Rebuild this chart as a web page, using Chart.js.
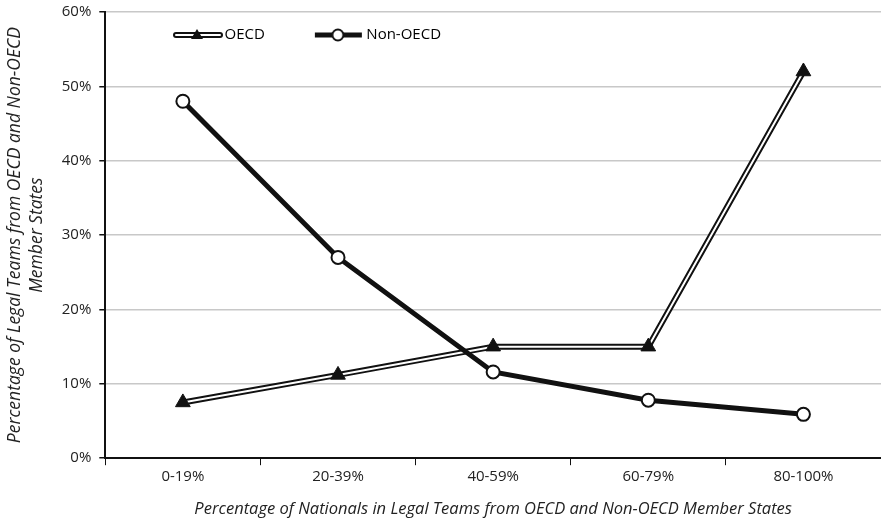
<!DOCTYPE html>
<html>
<head>
<meta charset="utf-8">
<script src="https://cdn.jsdelivr.net/npm/chart.js@4.4.0/dist/chart.umd.min.js"></script>
<style>
  html, body { margin: 0; padding: 0; background: #fff; }
  #wrap { width: 881px; height: 521px; }
</style>
</head>
<body>
<div id="wrap"><canvas id="nationalsChart"></canvas></div>
<script>
const categories = ["0-19%", "20-39%", "40-59%", "60-79%", "80-100%"];
const oecdValues = [7.5, 11.2, 15, 15, 52];
const nonOecdValues = [48, 27, 11.6, 7.8, 5.9];
const yTicks = [0, 10, 20, 30, 40, 50, 60];

const fontFamily = "'Open Sans', sans-serif";

// legend symbols (line + marker). image is 12px wider than the legend box,
// so it is drawn 6px past the box on each side; content starts at x=6
function makeOecdSymbol() {
    const c = document.createElement('canvas');
    c.width = 56; c.height = 16;
    const g = c.getContext('2d');
    g.lineCap = 'round';
    g.strokeStyle = '#111'; g.lineWidth = 6;
    g.beginPath(); g.moveTo(9, 8); g.lineTo(53, 8); g.stroke();
    g.strokeStyle = '#fff'; g.lineWidth = 2;
    g.beginPath(); g.moveTo(9, 8); g.lineTo(53, 8); g.stroke();
    g.fillStyle = '#111';
    g.beginPath(); g.moveTo(30, 2); g.lineTo(36, 12); g.lineTo(24, 12); g.closePath(); g.fill();
    return c;
}
function makeNonOecdSymbol() {
    const c = document.createElement('canvas');
    c.width = 56; c.height = 16;
    const g = c.getContext('2d');
    g.strokeStyle = '#111'; g.lineWidth = 5;
    g.beginPath(); g.moveTo(6, 8); g.lineTo(53, 8); g.stroke();
    g.fillStyle = '#fff'; g.lineWidth = 2;
    g.beginPath(); g.arc(29, 8, 5.5, 0, Math.PI * 2); g.fill(); g.stroke();
    return c;
}
const oecdSymbol = makeOecdSymbol();
const nonOecdSymbol = makeNonOecdSymbol();

// legend sits inside the plot area: take it out of the layout, then move it
const legendInside = {
    id: 'legendInside',
    afterInit(chart) {
        const legend = chart.legend;
        const fit = legend.fit;
        legend.fit = function () {
            fit.call(this);
            this.height = 0;
        };
    },
    afterLayout(chart) {
        const legend = chart.legend;
        legend.left = 123;
        legend.top = -22.5;
        legend.bottom = 80;
    },
};

const chartData = {
    labels: categories,
    datasets: [
        {
            // triangles on top
            label: "OECD",
            data: oecdValues,
            showLine: false,
            pointStyle: 'triangle',
            pointRadius: 8.5,
            pointBackgroundColor: '#111',
            pointBorderColor: '#111',
            pointBorderWidth: 1,
        },
        {
            label: "Non-OECD",
            data: nonOecdValues,
            borderColor: '#111',
            borderWidth: 5,
            tension: 0,
            pointStyle: 'circle',
            pointRadius: 6.5,
            pointBackgroundColor: '#fff',
            pointBorderColor: '#111',
            pointBorderWidth: 2,
        },
        {
            label: "oecd-inner",
            data: oecdValues,
            borderColor: '#fff',
            borderWidth: 2,
            pointRadius: 0,
            tension: 0,
        },
        {
            label: "oecd-outer",
            data: oecdValues,
            borderColor: '#111',
            borderWidth: 6,
            pointRadius: 0,
            tension: 0,
        },
    ],
};

const config = {
    type: 'line',
    data: chartData,
    plugins: [legendInside],
    options: {
        responsive: true,
        maintainAspectRatio: false,
        animation: false,
        layout: { autoPadding: false, padding: { top: 0, right: 0, bottom: 2, left: 4 } },
        plugins: {
            tooltip: { enabled: false },
            legend: {
                position: 'top',
                align: 'start',
                labels: {
                    usePointStyle: true,
                    pointStyleWidth: 44,
                    padding: 50,
                    color: '#111',
                    font: { family: fontFamily, size: 15 },
                    generateLabels: () => [
                        { text: 'OECD', pointStyle: oecdSymbol, fillStyle: '#111', strokeStyle: '#111', lineWidth: 0, datasetIndex: 0 },
                        { text: 'Non-OECD', pointStyle: nonOecdSymbol, fillStyle: '#111', strokeStyle: '#111', lineWidth: 0, datasetIndex: 1 },
                    ],
                },
            },
        },
        scales: {
            x: {
                offset: true,
                grid: {
                    offset: true,
                    drawOnChartArea: false,
                    drawTicks: true,
                    tickLength: 7,
                    tickColor: '#111',
                },
                border: { color: '#111', width: 2 },
                ticks: { color: '#222', font: { family: fontFamily, size: 15 }, padding: 3 },
                title: {
                    display: true,
                    text: 'Percentage of Nationals in Legal Teams from OECD and Non-OECD Member States',
                    color: '#222',
                    font: { family: fontFamily, size: 16.5, style: 'italic' },
                    padding: { top: 10, bottom: 0 },
                },
            },
            y: {
                min: 0,
                max: 60,
                afterBuildTicks: axis => { axis.ticks = yTicks.map(v => ({ value: v })); },
                afterFit: axis => { axis.paddingTop = 12; },
                grid: {
                    color: '#c8c8c8',
                    lineWidth: 1.5,
                    tickLength: 6,
                    tickColor: '#111',
                },
                border: { color: '#111', width: 2 },
                ticks: {
                    color: '#222',
                    font: { family: fontFamily, size: 15 },
                    padding: 8,
                    callback: v => v + '%',
                },
                title: {
                    display: true,
                    text: ['Percentage of Legal Teams from OECD and Non-OECD', 'Member States'],
                    color: '#222',
                    font: { family: fontFamily, size: 17.5, style: 'italic', lineHeight: 1.25 },
                    padding: { top: 0, bottom: 6 },
                },
            },
        },
    },
};

const nationalsChart = new Chart(document.getElementById('nationalsChart'), config);
</script>
</body>
</html>
